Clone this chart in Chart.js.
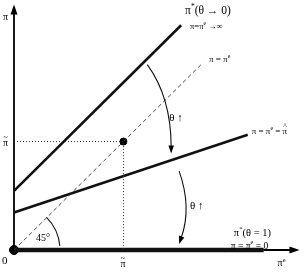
<!DOCTYPE html>
<html>
<head>
<meta charset="utf-8">
<script src="https://cdn.jsdelivr.net/npm/chart.js@4.4.0/dist/chart.umd.min.js"></script>
<style>
  html, body { margin: 0; padding: 0; background: #fff; }
  #wrap { width: 304px; height: 272px; }
</style>
</head>
<body>
<div id="wrap"><canvas id="diagram"></canvas></div>
<script>
// values (x = expected inflation, y = inflation)
const piTilde = 110;
const diagX = [0, 190];          // pi = pi^e (45 degree line)
const diagY = [0, 190];
const lowThetaX = [0, 168];      // pi*(theta -> 0)
const lowThetaY = [60, 228];
const midThetaX = [0, 235];      // pi = pi^e = pi hat
const midThetaY = [38, 117];
const highThetaX = [0, 251];     // pi*(theta = 1)
const highThetaY = [0, 0];
const guideX = [0, piTilde, piTilde];
const guideY = [piTilde, piTilde, 0];

function pts(xs, ys) {
  return xs.map(function (x, i) { return { x: x, y: ys[i] }; });
}

const SERIF = '"Liberation Serif", "DejaVu Serif", serif';

// draws text pieces: {t, sup, acc}
function rich(ctx, x, y, parts, size) {
  ctx.textBaseline = "middle";
  ctx.textAlign = "left";
  parts.forEach(function (p) {
    const s = p.sup ? size * 0.65 : size;
    const yo = p.sup ? -size * 0.38 : 0;
    ctx.font = s + "px " + SERIF;
    const w = ctx.measureText(p.t).width;
    ctx.fillText(p.t, x, y + yo);
    if (p.acc) {
      ctx.font = (size * 0.8) + "px " + SERIF;
      ctx.textAlign = "center";
      ctx.fillText(p.acc, x + w / 2, y - size * 0.55);
      ctx.textAlign = "left";
    }
    x += w;
  });
}

function arrowHead(ctx, tx, ty, fx, fy, len, half) {
  const a = Math.atan2(ty - fy, tx - fx);
  ctx.beginPath();
  ctx.moveTo(tx, ty);
  ctx.lineTo(tx - len * Math.cos(a) + half * Math.sin(a), ty - len * Math.sin(a) - half * Math.cos(a));
  ctx.lineTo(tx - len * Math.cos(a) - half * Math.sin(a), ty - len * Math.sin(a) + half * Math.cos(a));
  ctx.closePath();
  ctx.fill();
}

const axesPlugin = {
  id: "axes",
  beforeDatasetsDraw: function (chart) {
    const ctx = chart.ctx, a = chart.chartArea;
    const X = chart.scales.x, Y = chart.scales.y;
    const ox = X.getPixelForValue(0), oy = Y.getPixelForValue(0);
    ctx.save();
    ctx.strokeStyle = "#000";
    ctx.fillStyle = "#000";
    ctx.lineWidth = 1.8;
    ctx.beginPath();
    ctx.moveTo(ox, oy);
    ctx.lineTo(ox, a.top + 8);
    ctx.moveTo(ox, oy);
    ctx.lineTo(a.right - 8, oy);
    ctx.stroke();
    arrowHead(ctx, ox, a.top - 1, ox, oy, 10, 3.5);
    arrowHead(ctx, a.right + 1, oy, ox, oy, 10, 3.5);
    ctx.restore();
  }
};

const notesPlugin = {
  id: "notes",
  afterDraw: function (chart) {
    const ctx = chart.ctx;
    const X = function (v) { return chart.scales.x.getPixelForValue(v); };
    const Y = function (v) { return chart.scales.y.getPixelForValue(v); };
    ctx.save();
    ctx.fillStyle = "#000";
    ctx.strokeStyle = "#111";

    // axis labels
    rich(ctx, X(-11), Y(236), [{ t: "π" }], 10);
    rich(ctx, X(-11), Y(piTilde - 2), [{ t: "π", acc: "~" }], 10);
    rich(ctx, X(-12), Y(-11), [{ t: "0" }], 11);
    rich(ctx, X(piTilde - 3), Y(-15), [{ t: "π", acc: "~" }], 10);
    rich(ctx, X(265), Y(-14), [{ t: "π" }, { t: "e", sup: true }], 10);

    // line labels
    rich(ctx, X(172), Y(242), [{ t: "π" }, { t: "*", sup: true }, { t: "(θ → 0)" }], 11.5);
    rich(ctx, X(177), Y(226), [{ t: "π=π" }, { t: "e", sup: true }, { t: " →∞" }], 8.5);
    rich(ctx, X(196), Y(193), [{ t: "π = π" }, { t: "e", sup: true }], 9);
    rich(ctx, X(239), Y(120), [{ t: "π = π" }, { t: "e", sup: true }, { t: " = " }, { t: "π", acc: "^" }], 9);
    rich(ctx, X(221), Y(17), [{ t: "π" }, { t: "*", sup: true }, { t: "(θ = 1)" }], 10.5);
    rich(ctx, X(218), Y(4), [{ t: "π = π" }, { t: "e", sup: true }, { t: " = 0" }], 9.5);

    // theta arrows
    ctx.lineWidth = 1.1;
    ctx.beginPath();
    ctx.moveTo(X(134), Y(188));
    ctx.quadraticCurveTo(X(158), Y(155), X(158), Y(104));
    ctx.stroke();
    arrowHead(ctx, X(158), Y(98), X(158), Y(130), 8, 2.8);
    rich(ctx, X(156), Y(134), [{ t: "θ ↑" }], 11);

    ctx.beginPath();
    ctx.moveTo(X(166), Y(80));
    ctx.quadraticCurveTo(X(179), Y(43), X(168), Y(12));
    ctx.stroke();
    arrowHead(ctx, X(166), Y(6), X(174), Y(30), 8, 2.8);
    rich(ctx, X(177), Y(45), [{ t: "θ ↑" }], 11);

    // 45 degree arc
    ctx.beginPath();
    ctx.arc(X(0), Y(0), 46, -Math.PI / 4, -0.09);
    ctx.stroke();
    rich(ctx, X(22), Y(12), [{ t: "45°" }], 10);

    ctx.restore();
  }
};

const lineStyle = {
  showLine: true, fill: false, tension: 0, pointRadius: 0, clip: false,
  borderColor: "#111", borderWidth: 2.6
};

new Chart(document.getElementById("diagram"), {
  type: "scatter",
  data: {
    datasets: [
      Object.assign({}, lineStyle, {
        data: pts(guideX, guideY), borderWidth: 1, borderColor: "#333", borderDash: [1, 2]
      }),
      Object.assign({}, lineStyle, {
        data: pts(diagX, diagY), borderWidth: 0.9, borderColor: "#333", borderDash: [4, 3]
      }),
      Object.assign({}, lineStyle, { data: pts(lowThetaX, lowThetaY) }),
      Object.assign({}, lineStyle, { data: pts(midThetaX, midThetaY) }),
      Object.assign({}, lineStyle, { data: pts(highThetaX, highThetaY), borderWidth: 4.5, borderColor: "#111" }),
      Object.assign({}, lineStyle, { data: pts(highThetaX, highThetaY), borderWidth: 1.4, borderColor: "#9a9a9a" }),
      {
        data: [{ x: piTilde, y: piTilde }], showLine: false, clip: false,
        pointRadius: 3.5, backgroundColor: "#000", borderColor: "#000"
      },
      {
        data: [{ x: 0, y: 0 }], showLine: false, clip: false,
        pointRadius: 4.5, backgroundColor: "#000", borderColor: "#000"
      }
    ]
  },
  options: {
    responsive: true,
    maintainAspectRatio: false,
    animation: false,
    layout: { padding: { left: 14, right: 4, top: 2, bottom: 22 } },
    scales: {
      x: { type: "linear", min: 0, max: 286, display: false },
      y: { type: "linear", min: 0, max: 248, display: false }
    },
    plugins: {
      legend: { display: false },
      tooltip: { enabled: false }
    }
  },
  plugins: [axesPlugin, notesPlugin]
});
</script>
</body>
</html>
